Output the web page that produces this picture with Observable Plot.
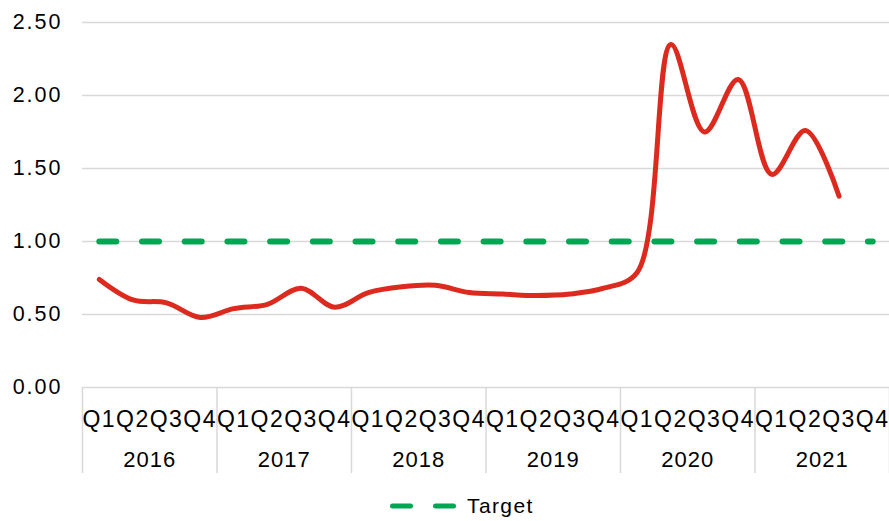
<!DOCTYPE html>
<html>
<head>
<meta charset="utf-8">
<script src="https://cdn.jsdelivr.net/npm/d3@7"></script>
<script src="https://cdn.jsdelivr.net/npm/@observablehq/plot@0.6"></script>
<style>
  html, body { margin: 0; padding: 0; background: #fff; }
  #wrap { position: relative; width: 889px; height: 521px; font-family: "Liberation Sans", Arial, sans-serif; color: #000; }
  #legend { position: absolute; left: 390px; top: 494px; display: flex; align-items: center; gap: 7px; font-size: 21px; letter-spacing: 1.4px; }
  #chart g[aria-label="y-axis tick label"] text { letter-spacing: 2px; }
  #chart g[font-size="23"] text { letter-spacing: 1.5px; }
  #chart g[font-size="22"] text { letter-spacing: 1px; }
</style>
</head>
<body>
<div id="wrap"><div id="chart"></div>
<div id="legend"><svg width="70" height="24"><line x1="2.5" x2="63.5" y1="12" y2="12" stroke="#00a651" stroke-width="5" stroke-dasharray="18,25" stroke-linecap="round"/></svg><span>Target</span></div>
</div>
<script>
const quarters = ["Q1", "Q2", "Q3", "Q4"];
const years = [2016, 2017, 2018, 2019, 2020, 2021];
const ratio = [0.74, 0.60, 0.58, 0.48, 0.54, 0.57, 0.68, 0.55,
               0.65, 0.69, 0.70, 0.65, 0.64, 0.63, 0.64, 0.68,
               0.79, 2.35, 1.75, 2.11, 1.46, 1.76, 1.31];
const target = 1.0;
const yTicks = [0, 0.5, 1.0, 1.5, 2.0, 2.5];

const n = years.length * quarters.length;
const idx = d3.range(n);
const lineData = ratio.map((v, i) => ({i, v}));
const targetData = idx.map(i => ({i, v: target}));
const separators = d3.range(years.length + 1).map(k => k * 4 - 0.5);
const yearCenters = years.map((y, k) => k * 4 + 1.5);

const chart = Plot.plot({
  width: 889,
  height: 480,
  marginLeft: 82,
  marginRight: 0,
  marginTop: 22,
  marginBottom: 93,
  x: {domain: [-0.5, n - 0.5], label: null},
  y: {domain: [0, 2.5], label: null},
  style: {fontFamily: "'Liberation Sans', Arial, sans-serif", color: "#000", background: "#fff"},
  marks: [
    Plot.gridY(yTicks, {stroke: "#d9d9d9", strokeOpacity: 1, strokeWidth: 1.5}),
    Plot.axisY(yTicks, {tickSize: 0, tickPadding: 20, tickFormat: d => d.toFixed(2), fontSize: 21.5, label: null}),
    Plot.axisX(separators, {tickSize: 86, tickFormat: () => "", stroke: "#d9d9d9", strokeWidth: 1.5, strokeOpacity: 1, label: null}),
    Plot.axisX(idx, {tickSize: 0, tickPadding: 23, tickFormat: i => quarters[i % 4], fontSize: 23, label: null}),
    Plot.axisX(yearCenters, {tickSize: 0, tickPadding: 64, tickFormat: c => String(years[Math.round((c - 1.5) / 4)]), fontSize: 22, label: null}),
    Plot.line(targetData, {x: "i", y: "v", stroke: "#00a651", strokeWidth: 6, strokeDasharray: "17,25.7", strokeLinecap: "round"}),
    Plot.line(lineData, {x: "i", y: "v", curve: "catmull-rom", stroke: "#dc2a1e", strokeWidth: 5})
  ]
});
document.getElementById("chart").appendChild(chart);
</script>
</body>
</html>
